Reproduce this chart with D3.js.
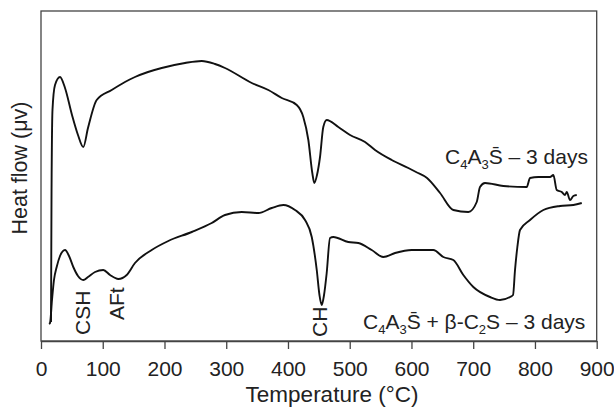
<!DOCTYPE html>
<html>
<head>
<meta charset="utf-8">
<script src="https://cdn.jsdelivr.net/npm/d3@7"></script>
<style>
  html, body { margin: 0; padding: 0; background: #fff; }
  svg { display: block; font-family: "Liberation Sans", Arial, sans-serif; }
</style>
</head>
<body>
<svg id="chart" width="614" height="407"></svg>
<script>
// Temperature ticks (°C)
const xTicks = [0, 100, 200, 300, 400, 500, 600, 700, 800, 900];

// C4A3S̄ – 3 days : [temperature °C, heat flow (arbitrary units)]
const upperSeries = [
  [16.2, 19], [17, 141], [18.6, 231], [22.7, 256], [30.8, 264], [38.9, 253],
  [50.2, 226], [59.9, 206], [68.5, 194], [76.1, 213], [90.2, 241], [114.5, 251],
  [136, 259], [152.2, 264], [173.3, 269], [195.5, 273], [233.2, 278], [260.3, 280],
  [281.8, 277], [298, 273], [341.3, 258], [368.2, 251], [389.9, 243], [414.2, 236],
  [424.8, 224], [433, 201], [439.4, 168], [442.7, 158], [447, 166], [451.9, 184],
  [457.2, 214], [462.7, 221], [481.5, 214], [500.5, 206], [524.8, 199], [541, 191],
  [568, 181], [594.9, 173], [607.4, 169], [625.2, 163], [646.3, 148], [667.8, 131],
  [692.1, 129], [705.7, 139], [711, 154], [719.1, 158], [748.8, 155], [786.7, 154],
  [792, 163], [805.5, 164], [824.4, 164], [829.8, 166], [835.3, 151], [843.4, 149],
  [848.7, 146], [851.5, 149], [856.8, 141], [862.2, 145], [867.7, 146]
];

// C4A3S̄ + β-C2S – 3 days : [temperature °C, heat flow (arbitrary units)]
const lowerSeries = [
  [13, 17], [14.6, 18], [17.8, 41], [21, 61], [25.4, 74], [30.8, 85], [38.9, 91],
  [45.4, 85], [52.3, 74], [59.9, 65], [68.5, 61], [76.1, 64], [87.5, 69], [100.9, 71],
  [111.8, 66], [125.2, 62], [138.8, 66], [152.2, 78], [179.3, 91], [206.2, 100],
  [244.1, 109], [276.5, 118], [298, 126], [325.1, 129], [352, 128], [373.7, 133],
  [392.5, 136], [411.4, 131], [427.6, 121], [438.5, 104], [446.6, 71], [451, 46],
  [454.6, 36], [458.4, 46], [462.7, 68], [468.1, 103], [473.4, 104], [497.7, 99],
  [513.9, 98], [535.6, 91], [554.4, 84], [573.4, 88], [600.4, 91], [635.4, 91],
  [651.6, 84], [667.8, 81], [684, 66], [700.2, 54], [727.2, 44], [743.4, 41],
  [759.6, 44], [764.5, 46], [767.7, 71], [771.5, 94], [775.8, 111], [792, 121],
  [813.6, 131], [840.6, 135], [862.2, 136], [875.8, 138]
];

// Peak annotations: [label, temperature °C]
const peakLabels = [["CSH", 79], ["AFt", 134], ["CH", 463]];

const svg = d3.select("#chart");
const mLeft = 41, mRight = 596.7, mTop = 11, mBottom = 341;

const x = d3.scaleLinear().domain([0, 900]).range([mLeft, mRight]);
const y = d3.scaleLinear().domain([0, 330]).range([mBottom, mTop]);

const frameColor = "#444";

// Frame
svg.append("rect")
  .attr("x", mLeft).attr("y", mTop)
  .attr("width", mRight - mLeft).attr("height", mBottom - mTop)
  .attr("fill", "none").attr("stroke", frameColor).attr("stroke-width", 1.3);

// X axis
const xAxis = svg.append("g")
  .attr("transform", `translate(0,${mBottom})`)
  .call(d3.axisBottom(x).tickValues(xTicks).tickSize(8).tickPadding(12).tickSizeOuter(0));
xAxis.select(".domain").attr("stroke", frameColor).attr("stroke-width", 1.3);
xAxis.selectAll(".tick line").attr("stroke", frameColor).attr("stroke-width", 1.3);
xAxis.selectAll(".tick text")
  .attr("font-size", 21).attr("fill", "#222")
  .attr("font-family", "Liberation Sans, Arial, sans-serif");

// Axis titles
svg.append("text")
  .attr("x", 332).attr("y", 402)
  .attr("text-anchor", "middle").attr("font-size", 22.5).attr("fill", "#222")
  .text("Temperature (°C)");

svg.append("text")
  .attr("transform", `translate(27,${(mTop + mBottom) / 2 - 8}) rotate(-90)`)
  .attr("text-anchor", "middle").attr("font-size", 21.5).attr("fill", "#222")
  .text("Heat flow (μv)");

// Curves
const line = d3.line()
  .x(d => x(d[0])).y(d => y(d[1]))
  .curve(d3.curveMonotoneX);

[upperSeries, lowerSeries].forEach(s => {
  svg.append("path")
    .datum(s)
    .attr("d", line)
    .attr("fill", "none")
    .attr("stroke", "#111")
    .attr("stroke-width", 1.9)
    .attr("stroke-linejoin", "round");
});

// Peak labels (rotated)
peakLabels.forEach(([lab, t]) => {
  const by = lab === "AFt" ? 320 : (lab === "CH" ? 337 : 335);
  svg.append("text")
    .attr("transform", `translate(${x(t)},${by}) rotate(-90)`)
    .attr("font-size", 21).attr("fill", "#222")
    .text(lab);
});

// Series labels
function seriesLabel(xPos, yPos, parts) {
  const t = svg.append("text")
    .attr("x", xPos).attr("y", yPos)
    .attr("font-size", 21).attr("fill", "#222");
  parts.forEach(p => {
    if (p.sub) {
      t.append("tspan").attr("font-size", 13).attr("dy", 5).text(p.t);
    } else {
      t.append("tspan").attr("dy", p.reset ? -5 : 0).text(p.t);
    }
  });
}

seriesLabel(445, 164, [
  {t: "C"}, {t: "4", sub: true}, {t: "A", reset: true}, {t: "3", sub: true},
  {t: "S\u0304 – 3 days", reset: true}
]);

seriesLabel(363, 329, [
  {t: "C"}, {t: "4", sub: true}, {t: "A", reset: true}, {t: "3", sub: true},
  {t: "S\u0304 + β-C", reset: true}, {t: "2", sub: true}, {t: "S – 3 days", reset: true}
]);
</script>
</body>
</html>
